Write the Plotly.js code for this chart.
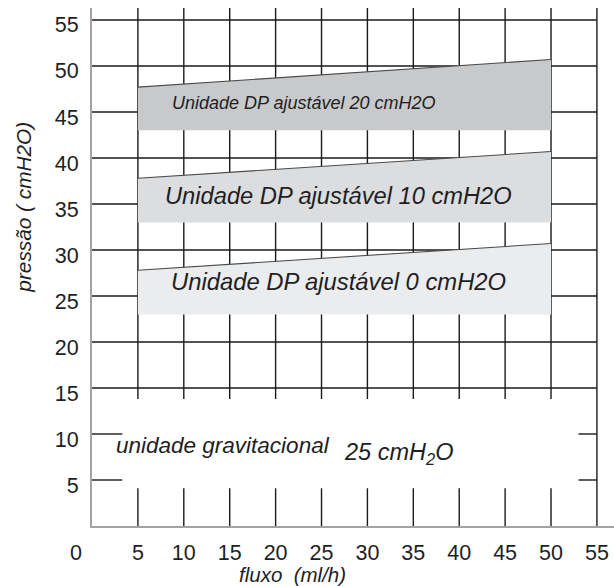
<!DOCTYPE html>
<html><head><meta charset="utf-8">
<script src="https://cdn.plot.ly/plotly-3.0.1.min.js"></script>
<style>html,body{margin:0;padding:0;background:#fff}</style>
</head><body><div id="chart" style="width:614px;height:586px"></div>
<script>
// ---- data ----
const xTicks = [5, 10, 15, 20, 25, 30, 35, 40, 45, 50, 55];
const yTicks = [5, 10, 15, 20, 25, 30, 35, 40, 45, 50, 55];
const yTop = 56.3;
const flowStart = 5;
const flowEnd = 50;
const bandNames = ['Unidade DP ajustável 0 cmH2O', 'Unidade DP ajustável 10 cmH2O', 'Unidade DP ajustável 20 cmH2O'];
const bandBottom = [23, 33, 43];
const bandTopStart = [27.8, 37.8, 47.7];
const bandTopEnd = [30.7, 40.7, 50.7];
const gravLabel = 'unidade gravitacional';
const gravValue = '25 cmH<sub>2</sub>O';
const vGapLow = 4.1, vGapHigh = 13.8;   // vertical grid lines are interrupted here
const shortTickLen = 3.3;               // short horizontal marks at 5 and 10

// ---- style ----
const FONT = 'Liberation Sans, Arial, Helvetica, sans-serif';
const TXT = '#1e1e24';
const GRID = '#1a1a1a';
const bandColors = ['#ebeced', '#dcdddf', '#c8c9ca'];
const labelPos = [{x: 26.9, y: 26.6, s: 23.8}, {x: 26.8, y: 35.9, s: 23.7}, {x: 23.0, y: 46.0, s: 18}];

const xMax = xTicks[xTicks.length - 1];
const traces = [];

// horizontal grid segments
const hx = [], hy = [];
yTicks.forEach(v => {
  if (v >= 15) { hx.push(0, xMax, null); hy.push(v, v, null); }
  else { hx.push(0, shortTickLen, null, xMax - 2, xMax, null); hy.push(v, v, null, v, v, null); }
});
traces.push({x: hx, y: hy, mode: 'lines', line: {color: GRID, width: 1.4}, hoverinfo: 'skip', showlegend: false, cliponaxis: false});

// vertical grid segments
const vx = [], vy = [];
xTicks.forEach(v => {
  if (v < xMax) { vx.push(v, v, null, v, v, null); vy.push(0, vGapLow, null, vGapHigh, yTop, null); }
  else { vx.push(v, v, null); vy.push(0, yTop, null); }
});
traces.push({x: vx, y: vy, mode: 'lines', line: {color: GRID, width: 1.4}, hoverinfo: 'skip', showlegend: false, cliponaxis: false});

// bands
bandNames.forEach((name, i) => {
  traces.push({
    x: [flowStart, flowEnd, flowEnd, flowStart, flowStart],
    y: [bandBottom[i], bandBottom[i], bandTopEnd[i], bandTopStart[i], bandBottom[i]],
    mode: 'lines', fill: 'toself', fillcolor: bandColors[i],
    line: {width: 0, color: bandColors[i]}, name: name, hoverinfo: 'skip', showlegend: false
  });
  traces.push({
    x: [flowStart, flowEnd], y: [bandTopStart[i], bandTopEnd[i]],
    mode: 'lines', line: {color: '#4a4a4a', width: 1.1}, hoverinfo: 'skip', showlegend: false
  });
});

const annotations = bandNames.map((name, i) => ({
  x: labelPos[i].x, y: labelPos[i].y, xref: 'x', yref: 'y', text: '<i>' + name + '</i>',
  showarrow: false, font: {family: FONT, size: labelPos[i].s, color: TXT}
}));
annotations.push({x: 2.35, y: 8.7, xref: 'x', yref: 'y', xanchor: 'left', text: '<i>' + gravLabel + '</i>',
  showarrow: false, font: {family: FONT, size: 22.5, color: TXT}});
annotations.push({x: 27.2, y: 7.9, xref: 'x', yref: 'y', xanchor: 'left', text: '<i>' + gravValue + '</i>',
  showarrow: false, font: {family: FONT, size: 23.5, color: TXT}});
annotations.push({x: (76 - 92) / 522, y: -0.052, xref: 'paper', yref: 'paper', xanchor: 'center', yanchor: 'middle',
  text: '0', showarrow: false, font: {family: FONT, size: 21.5, color: TXT}});
annotations.push({x: 21.8, y: -0.094, xref: 'x', yref: 'paper', xanchor: 'center', yanchor: 'middle',
  text: '<i>fluxo  (ml/h)</i>', showarrow: false, font: {family: FONT, size: 20.5, color: TXT}});
annotations.push({x: (24 - 92) / 522, y: 34.6, xref: 'paper', yref: 'y', xanchor: 'center', yanchor: 'middle',
  text: '<i>pressão ( cmH2O)</i>', textangle: -90, showarrow: false, font: {family: FONT, size: 20.8, color: TXT}});

const layout = {
  width: 614, height: 586,
  margin: {l: 92, r: 0, t: 8, b: 60},
  paper_bgcolor: '#fff', plot_bgcolor: '#fff',
  showlegend: false,
  xaxis: {range: [0, 56.86], showgrid: false, zeroline: false, showline: true, linecolor: '#a3a3a3', linewidth: 2,
    tickvals: xTicks, ticks: '', ticklabelstandoff: 6, tickfont: {family: FONT, size: 21.5, color: TXT}, fixedrange: true},
  yaxis: {range: [0, yTop], showgrid: false, zeroline: false, showline: true, linecolor: '#a3a3a3', linewidth: 2,
    tickvals: yTicks, ticks: '', ticklabelstandoff: 7, ticklabelshift: 5, tickfont: {family: FONT, size: 21.5, color: TXT}, fixedrange: true},
  annotations: annotations
};

Plotly.newPlot('chart', traces, layout, {displayModeBar: false, staticPlot: true});
</script>
</body></html>
